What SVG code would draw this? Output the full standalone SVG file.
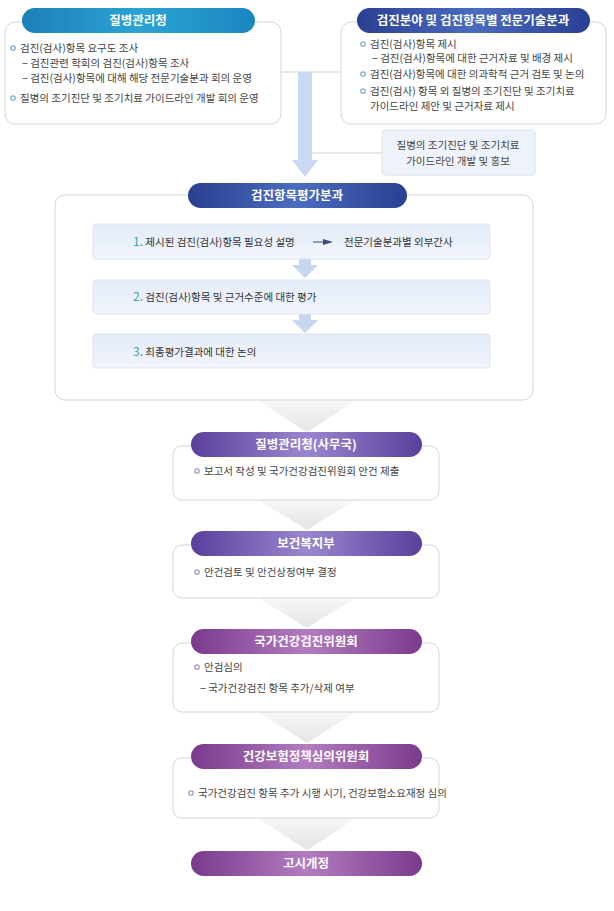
<svg xmlns="http://www.w3.org/2000/svg" width="614" height="911" viewBox="0 0 614 911">
<defs>
<linearGradient id="gTeal" x1="0" y1="0" x2="1" y2="0"><stop offset="0" stop-color="#1d7fb8"/><stop offset="0.5" stop-color="#2ba3d3"/><stop offset="1" stop-color="#1a86c0"/></linearGradient>
<linearGradient id="gBlue" x1="0" y1="0" x2="1" y2="0"><stop offset="0" stop-color="#2a3f92"/><stop offset="0.5" stop-color="#4a6cc0"/><stop offset="1" stop-color="#2a3f92"/></linearGradient>
<linearGradient id="gPur" x1="0" y1="0" x2="1" y2="0"><stop offset="0" stop-color="#5a3f9c"/><stop offset="0.5" stop-color="#9a86cf"/><stop offset="1" stop-color="#5a3f9c"/></linearGradient>
<linearGradient id="gMag" x1="0" y1="0" x2="1" y2="0"><stop offset="0" stop-color="#7a3a8c"/><stop offset="0.5" stop-color="#b27cbf"/><stop offset="1" stop-color="#7a3a8c"/></linearGradient>
<linearGradient id="gBar" x1="0" y1="0" x2="0" y2="1"><stop offset="0" stop-color="#e4ecf8"/><stop offset="1" stop-color="#f1f5fc"/></linearGradient>
<linearGradient id="gChev" x1="0" y1="0" x2="0" y2="1"><stop offset="0" stop-color="#f7f7f7"/><stop offset="1" stop-color="#e4e4e4"/></linearGradient>
</defs>
<style>
text{font-family:"Noto Sans CJK KR","Noto Sans",sans-serif;font-size:10.5px;fill:#444}
.h{fill:#fff;font-size:12.5px;font-weight:bold;text-anchor:middle}
.box{fill:#fff;stroke:#d6d6d6;stroke-width:1}
.dot{fill:none;stroke:#7fb0d0;stroke-width:1.3}
.pdot{fill:none;stroke:#a898c8;stroke-width:1.3}
.bar{fill:url(#gBar);stroke:#dbe4f2}
.num{fill:#3aa0b8;font-size:12px}
.bt{fill:#333}
.sarr{fill:#c7d6ef}
</style>
<g id="connectors">
<line x1="281" y1="72" x2="341" y2="72" stroke="#cfcfcf"/>
<line x1="312" y1="153" x2="382" y2="153" stroke="#cfcfcf"/>
<polygon points="298,72 312,72 312,160 318,160 305,177 292,160 298,160" fill="#c9d9f1"/>
<g fill="url(#gChev)">
<polygon points="258,400 356,400 326,420 307,432 288,420"/>
<polygon points="258,500 356,500 326,518 307,530 288,518"/>
<polygon points="258,598 356,598 326,616 307,628 288,616"/>
<polygon points="258,712 356,712 326,731 307,743 288,731"/>
<polygon points="258,818 356,818 326,838 307,850 288,838"/>
</g>
</g>
<g id="kdca">
<rect class="box" x="5" y="22" width="276" height="102" rx="10"/>
<rect x="22" y="8" width="233" height="25" rx="12.5" fill="url(#gTeal)"/>
<text class="h" x="138" y="25">질병관리청</text>
<circle class="dot" cx="13" cy="48" r="2.2"/><text x="20" y="52">검진(검사)항목 요구도 조사</text>
<text x="22" y="67">− 검진관련 학회의 검진(검사)항목 조사</text>
<text x="22" y="82">− 검진(검사)항목에 대해 해당 전문기술분과 회의 운영</text>
<circle class="dot" cx="13" cy="98" r="2.2"/><text x="20" y="102">질병의 조기진단 및 조기치료 가이드라인 개발 회의 운영</text>
</g>
<g id="expert">
<rect class="box" x="341" y="22" width="265" height="102" rx="10"/>
<rect x="357" y="8" width="233" height="25" rx="12.5" fill="url(#gBlue)"/>
<text class="h" x="473" y="25">검진분야 및 검진항목별 전문기술분과</text>
<circle class="dot" cx="363" cy="44" r="2.2"/><text x="370" y="48">검진(검사)항목 제시</text>
<text x="372" y="62">− 검진(검사)항목에 대한 근거자료 및 배경 제시</text>
<circle class="dot" cx="363" cy="74" r="2.2"/><text x="370" y="78">검진(검사)항목에 대한 의과학적 근거 검토 및 논의</text>
<circle class="dot" cx="363" cy="91" r="2.2"/><text x="370" y="95">검진(검사) 항목 외 질병의 조기진단 및 조기치료</text>
<text x="370" y="110">가이드라인 제안 및 근거자료 제시</text>
</g>
<g id="guide">
<rect x="382" y="130" width="153" height="45" rx="3" fill="#eef3fb" stroke="#d8e2f2"/>
<text x="458" y="149" text-anchor="middle" fill="#3d4a7a">질병의 조기진단 및 조기치료</text>
<text x="458" y="165" text-anchor="middle" fill="#3d4a7a">가이드라인 개발 및 홍보</text>
</g>
<g id="eval">
<rect class="box" x="55" y="195" width="478" height="205" rx="10"/>
<rect x="188" y="183" width="219" height="25" rx="12.5" fill="url(#gBlue)"/>
<text class="h" x="297" y="200">검진항목평가분과</text>
<polygon class="sarr" points="299,259 311,259 311,265 318,265 305,278 292,265 299,265"/>
<polygon class="sarr" points="299,314 311,314 311,320 318,320 305,333 292,320 299,320"/>
<rect class="bar" x="93" y="224" width="397" height="35" rx="3"/>
<text x="133" y="246"><tspan class="num">1.</tspan><tspan class="bt"> 제시된 검진(검사)항목 필요성 설명</tspan></text>
<line x1="313" y1="242" x2="326" y2="242" stroke="#3d4a7a"/><polygon points="323,239 333,242 323,245" fill="#3d4a7a"/>
<text x="344" y="246" class="bt">전문기술분과별 외부간사</text>
<rect class="bar" x="93" y="280" width="397" height="34" rx="3"/>
<text x="133" y="301"><tspan class="num">2.</tspan><tspan class="bt"> 검진(검사)항목 및 근거수준에 대한 평가</tspan></text>
<rect class="bar" x="93" y="334" width="397" height="34" rx="3"/>
<text x="133" y="356"><tspan class="num">3.</tspan><tspan class="bt"> 최종평가결과에 대한 논의</tspan></text>
</g>
<g id="secretariat">
<rect class="box" x="173" y="446" width="266" height="54" rx="9"/>
<rect x="191" y="432" width="231" height="25" rx="12.5" fill="url(#gPur)"/>
<text class="h" x="306" y="449">질병관리청(사무국)</text>
<circle class="pdot" cx="197" cy="471" r="2.2"/><text x="204" y="475">보고서 작성 및 국가건강검진위원회 안건 제출</text>
</g>
<g id="mohw">
<rect class="box" x="173" y="545" width="266" height="53" rx="9"/>
<rect x="191" y="531" width="231" height="25" rx="12.5" fill="url(#gPur)"/>
<text class="h" x="306" y="548">보건복지부</text>
<circle class="pdot" cx="197" cy="572" r="2.2"/><text x="204" y="576">안건검토 및 안건상정여부 결정</text>
</g>
<g id="committee">
<rect class="box" x="173" y="643" width="266" height="69" rx="9"/>
<rect x="191" y="629" width="231" height="25" rx="12.5" fill="url(#gMag)"/>
<text class="h" x="306" y="646">국가건강검진위원회</text>
<circle class="pdot" cx="197" cy="667" r="2.2"/><text x="204" y="671">안검심의</text>
<text x="200" y="692">− 국가건강검진 항목 추가/삭제 여부</text>
</g>
<g id="insurance">
<rect class="box" x="173" y="758" width="266" height="60" rx="9"/>
<rect x="191" y="744" width="231" height="25" rx="12.5" fill="url(#gMag)"/>
<text class="h" x="306" y="761">건강보험정책심의위원회</text>
<circle class="pdot" cx="191" cy="793" r="2.2"/><text x="198" y="797" font-size="10">국가건강검진 항목 추가 시행 시기, 건강보험소요재정 심의</text>
</g>
<g id="notice">
<rect x="191" y="851" width="231" height="25" rx="12.5" fill="url(#gMag)"/>
<text class="h" x="306" y="868">고시개정</text>
</g>
</svg>
